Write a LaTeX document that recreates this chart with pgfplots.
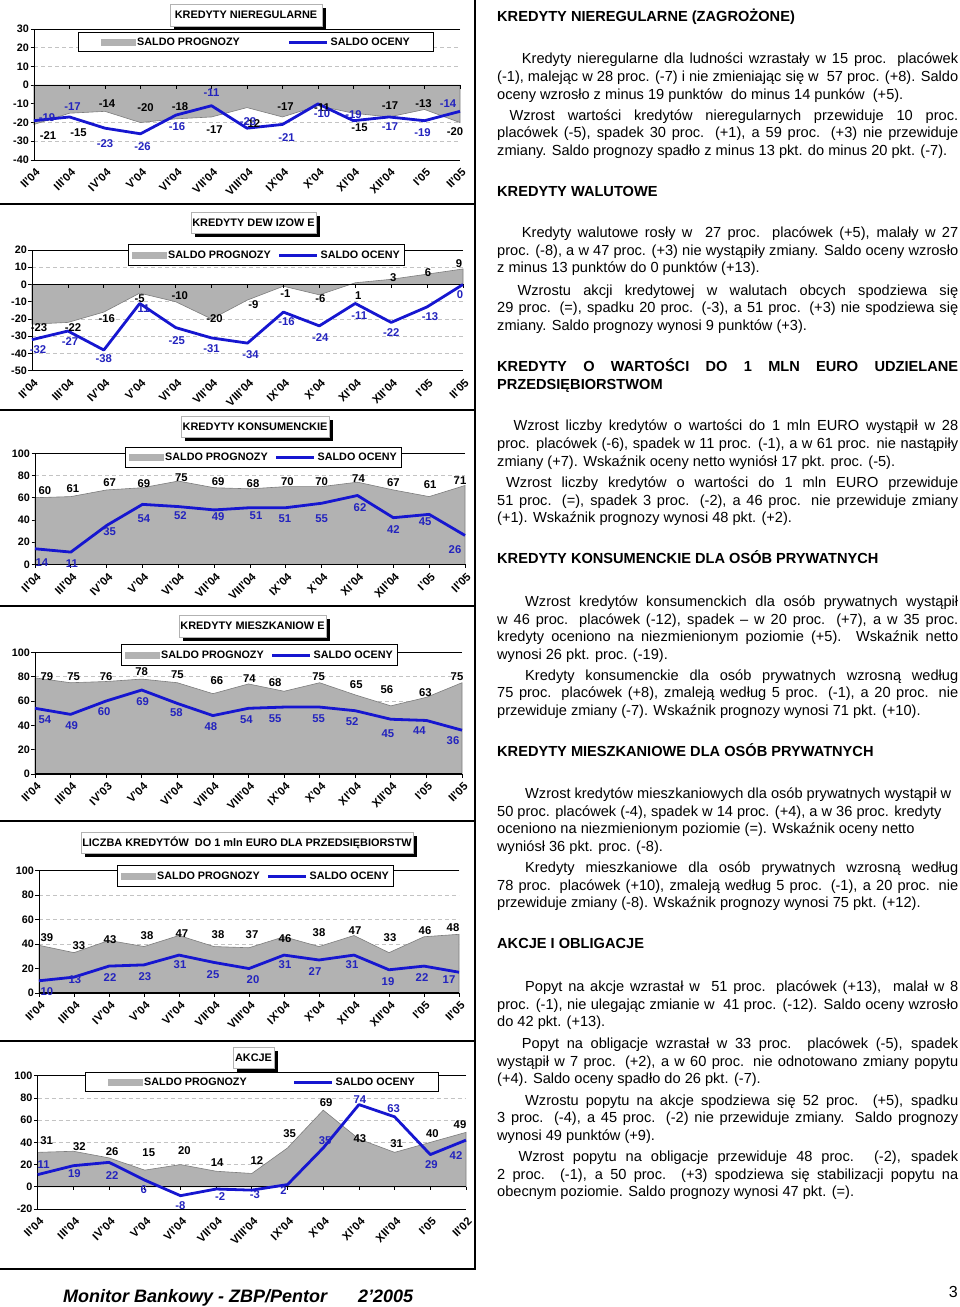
\documentclass[border=0pt]{standalone}
\usepackage{pgfplots}
\pgfplotsset{compat=1.18}
\usepackage{pgfplotstable}
\usepackage{fontspec}
\setmainfont{Liberation Sans}
\usetikzlibrary{calc}

\definecolor{areagray}{RGB}{178,178,178}
\definecolor{edgegray}{RGB}{125,125,125}
\definecolor{lblue}{RGB}{22,22,208}
\definecolor{tblue}{RGB}{35,35,190}
\definecolor{gridgray}{RGB}{195,195,195}

\newcommand{\tickfont}{\bfseries\fontsize{11.3}{12}\selectfont}
\newcommand{\ytickfont}{\bfseries\fontsize{10.8}{11}\selectfont}
\newcommand{\lblfont}{\bfseries\fontsize{11.3}{12}\selectfont}
\newcommand{\legfont}{\bfseries\fontsize{10.8}{11}\selectfont}
\newcommand{\titfont}{\bfseries\fontsize{10.9}{11}\selectfont}
\newcommand{\bodyfont}{\fontsize{14.6}{17.7}\selectfont}

\pgfplotsset{
  mb/.style={
    scale only axis, anchor=north west,
    xmin=0, xmax=12, xtick={0,...,12}, xtick pos=bottom, ytick pos=left,
    x tick label style={font=\tickfont, inner sep=0pt, xshift=1pt, yshift=-4pt, rotate=45, anchor=north east},
    y tick label style={font=\ytickfont, inner sep=1.5pt},
    /pgf/number format/assume math mode=true,
    major x tick style={draw=none},
    major y tick style={black, line width=0.8pt},
    major tick length=3.5pt, tick align=outside,
    ymajorgrids, grid style={gridgray, dash pattern=on 4pt off 3pt, line width=0.7pt},
    axis line style={draw=none},
    clip=false,
    legend columns=2, legend cell align=left,
    legend style={anchor=north west, draw=black, line width=1.2pt, fill=white, font=\legfont, inner ysep=3pt, nodes={inner sep=2pt}},
  },
  areaplot/.style={fill=areagray, draw=edgegray, line width=0.6pt,
    legend image code/.code={\fill[areagray] (0pt,-3pt) rectangle (34pt,3pt);}},
  lineplot/.style={lblue, line width=2.8pt, line join=round, mark=none,
    legend image code/.code={\draw[lblue, line width=2.8pt] (0pt,0pt) -- (38pt,0pt);}},
  plbl/.style={draw=none, mark=none, forget plot, nodes near coords={\pgfplotspointmeta}, point meta=explicit symbolic,
    visualization depends on={\thisrow{pdx}\as\ldx},
    visualization depends on={\thisrow{pdy}\as\ldy},
    every node near coord/.style={anchor=center, inner sep=0pt, xshift=\ldx pt, yshift=\ldy pt, font=\lblfont, text=black}},
  olbl/.style={draw=none, mark=none, forget plot, nodes near coords={\pgfplotspointmeta}, point meta=explicit symbolic,
    visualization depends on={\thisrow{odx}\as\mdx},
    visualization depends on={\thisrow{ody}\as\mdy},
    every node near coord/.style={anchor=center, inner sep=0pt, xshift=\mdx pt, yshift=\mdy pt, font=\lblfont, text=tblue}},
}

\newcommand{\mbframe}{%
  \draw[black, line width=0.9pt] (rel axis cs:1,1) -- (rel axis cs:0,1) -- (rel axis cs:0,0) -- (rel axis cs:1,0);
  \draw[black, line width=1.1pt] (axis cs:0,0) -- (axis cs:12,0);
  \pgfplotsinvokeforeach{0,...,12}{\draw[black, line width=0.8pt] (axis cs:##1,0) -- ++(0pt,-3.5pt);}%
}

\newcommand{\titlebox}[5]{%
  \fill[black] (#1pt+4pt,-#2pt-4pt) rectangle (#3pt+4pt,-#4pt-4pt);
  \filldraw[fill=white, draw=gray!60, line width=0.6pt] (#1pt,-#2pt) rectangle (#3pt,-#4pt);
  \node[font=\titfont, inner sep=0pt] at ($(#1pt,-#2pt)!0.5!(#3pt,-#4pt)$) {#5};
}

\newcommand{\JL}[3]{\node[anchor=base west, inner sep=0pt, font=\bodyfont] at (#1pt,-#2pt) {\makebox[\dimexpr 958pt-#1pt\relax][s]{#3}};}
\newcommand{\JLB}[3]{\node[anchor=base west, inner sep=0pt, font=\bodyfont\bfseries] at (#1pt,-#2pt) {\makebox[\dimexpr 958pt-#1pt\relax][s]{#3}};}
\newcommand{\LL}[3]{\node[anchor=base west, inner sep=0pt, font=\bodyfont] at (#1pt,-#2pt) {#3};}
\newcommand{\HL}[3]{\node[anchor=base west, inner sep=0pt, font=\bodyfont\bfseries] at (#1pt,-#2pt) {#3};}

\pgfplotstableread{
x p o pdx pdy odx ody
0 -21 -19 14 -11 13 3
1 -15 -17 9 -19 3 10
2 -14 -23 2 8 0 -15
3 -20 -26 5 15 2 -13
4 -18 -16 4 12 1 -12
5 -17 -11 3 -13 0 13
6 -12 -23 5 -16 1 7
7 -17 -21 3 10 4 -13
8 -11 -10 4 -2 4 -10
9 -15 -19 6 -14 0 6
10 -17 -17 1 11 1 -10
11 -13 -19 -1 6 -2 -12
12 -20 -14 -5 -9 -12 8
}\tA

\pgfplotstableread{
x p o pdx pdy odx ody
0 -23 -32 7 -3 6 -10
1 -22 -27 5 -5 2 -11
2 -16 -38 3 -7 0 -9
3 -5 -11 0 -6 2 -5
4 -10 -25 4 6 1 -13
5 -20 -31 3 0 0 -11
6 -9 -34 6 -5 3 -12
7 -1 -16 2 -7 3 -10
8 -6 -24 1 -4 1 -12
9 1 -11 3 -13 4 -12
10 3 -22 2 2 0 -10
11 6 -13 1 2 3 -10
12 9 0 -4 5 -3 -10
}\tB

\pgfplotstableread{
x p o pdx pdy odx ody
0 60 14 10 7 7 -14
1 61 11 2 8 1 -12
2 67 35 3 7 3 -6
3 69 54 1.5 4 1.5 -14
4 75 52 3 3 2 -9
5 69 49 4 6 4 -7
6 68 51 3 5 6 -8
7 70 51 1.5 5 -1 -11
8 70 55 0 5 0 -15
9 74 62 1 4 2.5 -12
10 67 42 0 7 0 -12
11 61 45 1 12 -4 -7
12 71 26 -5 5 -10 -14
}\tC

\pgfplotstableread{
x p o pdx pdy odx ody
0 79 54 12 1 10 -11
1 75 49 3 6 1 -11
2 76 60 0 5 -2 -11
3 78 69 0 7 1 -12
4 75 58 0 8 -1 -9
5 66 48 4 13 -2 -11
6 74 54 1 5 -2 -11
7 68 55 -9 9 -9 -12
8 75 55 -1 6 -1 -12
9 65 52 1 10 -3 -11
10 56 45 -4 16 -3 -14
11 63 44 -1 5 -7 -10
12 75 36 -5 6 -9 -10
}\tD

\pgfplotstableread{
x p o pdx pdy odx ody
0 39 10 8 8 8 -11
1 33 13 5 7 1 -3
2 43 22 1 1 1 -11
3 38 23 3 11 1 -12
4 47 31 3 2 1 -10
5 38 25 4 12 -1 -12
6 37 20 3 13 4 -11
7 46 31 1 -2 1 -10
8 38 27 0 14 -4 -12
9 47 31 1 5 -2 -10
10 33 19 1 15 -1 -12
11 46 22 1 6 -2 -11
12 48 17 -6 7 -10 -7
}\tE

\pgfplotstableread{
x p o pdx pdy odx ody
0 31 11 9 12 6 10
1 32 19 6 5 1 -8
2 26 22 3 6 3 -13
3 15 6 4 17 -1 -9
4 20 -8 4 14 0 -10
5 14 -2 1 9 4 -8
6 12 -3 5 13 3 -4
7 35 2 2 14 -4 -6
8 69 35 3 8 2 7
9 43 74 1 0 1 5
10 31 63 2 9 -1 8
11 40 29 2 9 1 -10
12 49 42 -6 8 -10 -15
}\tF

\begin{document}
\begin{tikzpicture}
\path[use as bounding box] (0pt,0pt) rectangle (960pt,-1307pt);

% ---------- chart 1
\begin{axis}[mb, at={(34pt,-29pt)}, width=426pt, height=131pt,
  ymin=-40, ymax=30, ytick={-40,-30,...,30},
  xticklabels={II'04,III'04,IV'04,V'04,VI'04,VII'04,VIII'04,IX'04,X'04,XI'04,XII'04,I'05,II'05},
  legend style={at={(0.1033,0.977)}, inner xsep=22pt, /tikz/every even column/.append style={column sep=46pt}}]
\addplot[areaplot] table[x=x,y=p]{\tA} \closedcycle;
\addlegendentry{SALDO PROGNOZY}
\mbframe
\addplot[lineplot] table[x=x,y=o]{\tA};
\addlegendentry{SALDO OCENY}
\addplot[plbl] table[x=x,y=p,meta=p]{\tA};
\addplot[olbl] table[x=x,y=o,meta=o]{\tA};
\end{axis}

% ---------- chart 2
\begin{axis}[mb, at={(32pt,-250pt)}, width=431pt, height=120.7pt,
  ymin=-50, ymax=20, ytick={-50,-40,...,20},
  xticklabels={II'04,III'04,IV'04,V'04,VI'04,VII'04,VIII'04,IX'04,X'04,XI'04,XII'04,I'05,II'05},
  legend style={at={(0.2227,1.0497)}, inner xsep=3pt, inner ysep=4pt, /tikz/every even column/.append style={column sep=5pt}}]
\addplot[areaplot] table[x=x,y=p]{\tB} \closedcycle;
\addlegendentry{SALDO PROGNOZY}
\mbframe
\addplot[lineplot] table[x=x,y=o]{\tB};
\addlegendentry{SALDO OCENY}
\addplot[plbl] table[x=x,y=p,meta=p]{\tB};
\addplot[olbl] table[x=x,y=o,meta=o]{\tB};
\end{axis}

% ---------- chart 3
\begin{axis}[mb, at={(35pt,-453.3pt)}, width=430pt, height=111pt,
  ymin=0, ymax=100, ytick={0,20,...,100},
  xticklabels={II'04,III'04,IV'04,V'04,VI'04,VII'04,VIII'04,IX'04,X'04,XI'04,XII'04,I'05,II'05},
  legend style={at={(0.2093,1.0595)}, inner xsep=3pt, inner ysep=3.5pt, /tikz/every even column/.append style={column sep=5pt}}]
\addplot[areaplot] table[x=x,y=p]{\tC} \closedcycle;
\addlegendentry{SALDO PROGNOZY}
\mbframe
\addplot[lineplot] table[x=x,y=o]{\tC};
\addlegendentry{SALDO OCENY}
\addplot[plbl] table[x=x,y=p,meta=p]{\tC};
\addplot[olbl] table[x=x,y=o,meta=o]{\tC};
\end{axis}

% ---------- chart 4
\begin{axis}[mb, at={(35pt,-652.3pt)}, width=427pt, height=121.7pt,
  ymin=0, ymax=100, ytick={0,20,...,100},
  xticklabels={II'04,III'04,IV'03,V'04,VI'04,VII'04,VIII'04,IX'04,X'04,XI'04,XII'04,I'05,II'05},
  legend style={at={(0.2014,1.068)}, inner xsep=3pt, inner ysep=4pt, /tikz/every even column/.append style={column sep=5pt}}]
\addplot[areaplot] table[x=x,y=p]{\tD} \closedcycle;
\addlegendentry{SALDO PROGNOZY}
\mbframe
\addplot[lineplot] table[x=x,y=o]{\tD};
\addlegendentry{SALDO OCENY}
\addplot[plbl] table[x=x,y=p,meta=p]{\tD};
\addplot[olbl] table[x=x,y=o,meta=o]{\tD};
\end{axis}

% ---------- chart 5
\begin{axis}[mb, at={(39pt,-870.7pt)}, width=420pt, height=122.3pt,
  ymin=0, ymax=100, ytick={0,20,...,100},
  xticklabels={II'04,III'04,IV'04,V'04,VI'04,VII'04,VIII'04,IX'04,X'04,XI'04,XII'04,I'05,II'05},
  legend style={at={(0.1857,1.0466)}, inner xsep=3pt, inner ysep=4pt, /tikz/every even column/.append style={column sep=5pt}}]
\addplot[areaplot] table[x=x,y=p]{\tE} \closedcycle;
\addlegendentry{SALDO PROGNOZY}
\mbframe
\addplot[lineplot] table[x=x,y=o]{\tE};
\addlegendentry{SALDO OCENY}
\addplot[plbl] table[x=x,y=p,meta=p]{\tE};
\addplot[olbl] table[x=x,y=o,meta=o]{\tE};
\end{axis}

% ---------- chart 6
\begin{axis}[mb, at={(37.7pt,-1075.7pt)}, width=428.3pt, height=133.3pt,
  ymin=-20, ymax=100, ytick={-20,0,...,100},
  xticklabels={II'04,III'04,IV'04,V'04,VI'04,VII'04,VIII'04,IX'04,X'04,XI'04,XII'04,I'05,II'02},
  legend style={at={(0.1104,1.0278)}, inner xsep=22pt, /tikz/every even column/.append style={column sep=44pt}}]
\addplot[areaplot] table[x=x,y=p]{\tF} \closedcycle;
\addlegendentry{SALDO PROGNOZY}
\mbframe
\addplot[lineplot] table[x=x,y=o]{\tF};
\addlegendentry{SALDO OCENY}
\addplot[plbl] table[x=x,y=p,meta=p]{\tF};
\addplot[olbl] table[x=x,y=o,meta=o]{\tF};
\end{axis}

% ---------- title boxes
\titlebox{170}{4}{322}{26}{KREDYTY NIEREGULARNE}
\titlebox{191}{212}{316}{233}{KREDYTY DEW IZOW E}
\titlebox{181}{416}{329}{437}{KREDYTY KONSUMENCKIE}
\titlebox{179}{615}{326}{637}{KREDYTY MIESZKANIOW E}
\titlebox{81}{832}{413}{853}{LICZBA KREDYTÓW \ DO 1 mln EURO DLA PRZEDSIĘBIORSTW}
\titlebox{233}{1047}{274}{1068}{AKCJE}

% ---------- frame lines
\draw[black, line width=2.5pt] (475pt,0pt) -- (475pt,-1270pt);
\foreach \yy in {204,410,606,821,1041,1269} {\draw[black, line width=2.5pt] (0pt,-\yy pt) -- (476pt,-\yy pt);}

% ---------- right column text
\HL{497}{21.7}{KREDYTY NIEREGULARNE (ZAGROŻONE)}
\JL{521.7}{63.3}{Kredyty nieregularne dla ludności wzrastały w 15 proc. placówek}
\JL{497}{81.7}{(-1), malejąc w 28 proc. (-7) i nie zmieniając się w \ 57 proc. (+8). Saldo}
\LL{497}{99.3}{oceny wzrosło z minus 19 punktów \ do minus 14 punków \ (+5).}
\JL{509.3}{120}{Wzrost wartości kredytów nieregularnych przewiduje 10 proc.}
\JL{497}{137.3}{placówek (-5), spadek 30 proc. (+1), a 59 proc. (+3) nie przewiduje}
\LL{497}{155}{zmiany. Saldo prognozy spadło z minus 13 pkt. do minus 20 pkt. (-7).}

\HL{497}{196.7}{KREDYTY WALUTOWE}
\JL{521.7}{237.3}{Kredyty walutowe rosły w \ 27 proc. placówek (+5), malały w 27}
\JL{497}{255}{proc. (-8), a w 47 proc. (+3) nie wystąpiły zmiany. Saldo oceny wzrosło}
\LL{497}{272.7}{z minus 13 punktów do 0 punktów (+13).}
\JL{517.3}{295}{Wzrostu akcji kredytowej w walutach obcych spodziewa się}
\JL{497}{312.7}{29 proc. (=), spadku 20 proc. (-3), a 51 proc. (+3) nie spodziewa się}
\LL{497}{330}{zmiany. Saldo prognozy wynosi 9 punktów (+3).}

\JLB{497}{371.7}{KREDYTY O WARTOŚCI DO 1 MLN EURO UDZIELANE}
\HL{497}{389.3}{PRZEDSIĘBIORSTWOM}
\JL{513.3}{430.7}{Wzrost liczby kredytów o wartości do 1 mln EURO wystąpił w 28}
\JL{497}{448.3}{proc. placówek (-6), spadek w 11 proc. (-1), a w 61 proc. nie nastąpiły}
\LL{497}{466}{zmiany (+7). Wskaźnik oceny netto wyniósł 17 pkt. proc. (-5).}
\JL{506}{487.3}{Wzrost liczby kredytów o wartości do 1 mln EURO przewiduje}
\JL{497}{505}{51 proc. (=), spadek 3 proc. (-2), a 46 proc. nie przewiduje zmiany}
\LL{497}{522.7}{(+1). Wskaźnik prognozy wynosi 48 pkt. (+2).}

\HL{497}{563.3}{KREDYTY KONSUMENCKIE DLA OSÓB PRYWATNYCH}
\JL{525}{606}{Wzrost kredytów konsumenckich dla osób prywatnych wystąpił}
\JL{497}{624}{w 46 proc. placówek (-12), spadek – w 20 proc. (+7), a w 35 proc.}
\JL{497}{641.7}{kredyty oceniono na niezmienionym poziomie (+5). Wskaźnik netto}
\LL{497}{659.3}{wynosi 26 pkt. proc. (-19).}
\JL{525}{680}{Kredyty konsumenckie dla osób prywatnych wzrosną według}
\JL{497}{697.7}{75 proc. placówek (+8), zmaleją według 5 proc. (-1), a 20 proc. nie}
\LL{497}{715.3}{przewiduje zmiany (-7). Wskaźnik prognozy wynosi 71 pkt. (+10).}

\HL{497}{756.7}{KREDYTY MIESZKANIOWE DLA OSÓB PRYWATNYCH}
\LL{525}{798.3}{Wzrost kredytów mieszkaniowych dla osób prywatnych wystąpił w}
\LL{497}{816}{50 proc. placówek (-4), spadek w 14 proc. (+4), a w 36 proc. kredyty}
\LL{497}{833.3}{oceniono na niezmienionym poziomie (=). Wskaźnik oceny netto}
\LL{497}{851.7}{wyniósł 36 pkt. proc. (-8).}
\JL{525}{872.7}{Kredyty mieszkaniowe dla osób prywatnych wzrosną według}
\JL{497}{890}{78 proc. placówek (+10), zmaleją według 5 proc. (-1), a 20 proc. nie}
\LL{497}{907.7}{przewiduje zmiany (-8). Wskaźnik prognozy wynosi 75 pkt. (+12).}

\HL{497}{948.3}{AKCJE I OBLIGACJE}
\JL{525}{991.7}{Popyt na akcje wzrastał w \ 51 proc. placówek (+13), \ malał w 8}
\JL{497}{1009.3}{proc. (-1), nie ulegając zmianie w \ 41 proc. (-12). Saldo oceny wzrosło}
\LL{497}{1026.7}{do 42 pkt. (+13).}
\JL{521.7}{1048.3}{Popyt na obligacje wzrastał w 33 proc. placówek (-5), spadek}
\JL{497}{1066}{wystąpił w 7 proc. (+2), a w 60 proc. nie odnotowano zmiany popytu}
\LL{497}{1083.3}{(+4). Saldo oceny spadło do 26 pkt. (-7).}
\JL{525}{1105}{Wzrostu popytu na akcje spodziewa się 52 proc. (+5), spadku}
\JL{497}{1122.7}{3 proc. (-4), a 45 proc. (-2) nie przewiduje zmiany. Saldo prognozy}
\LL{497}{1140}{wynosi 49 punktów (+9).}
\JL{518.3}{1161.7}{Wzrost popytu na obligacje przewiduje 48 proc. (-2), spadek}
\JL{497}{1179.3}{2 proc. (-1), a 50 proc. (+3) spodziewa się stabilizacji popytu na}
\LL{497}{1196.7}{obecnym poziomie. Saldo prognozy wynosi 47 pkt. (=).}

% ---------- footer
\node[anchor=base west, inner sep=0pt, font=\fontsize{18}{20}\selectfont\bfseries\itshape] at (63pt,-1302.7pt) {Monitor Bankowy - ZBP/Pentor};
\node[anchor=base west, inner sep=0pt, font=\fontsize{18}{20}\selectfont\bfseries\itshape] at (358pt,-1302.7pt) {2’2005};
\node[anchor=base east, inner sep=0pt, font=\fontsize{16}{18}\selectfont] at (958pt,-1297pt) {3};
\end{tikzpicture}
\end{document}
